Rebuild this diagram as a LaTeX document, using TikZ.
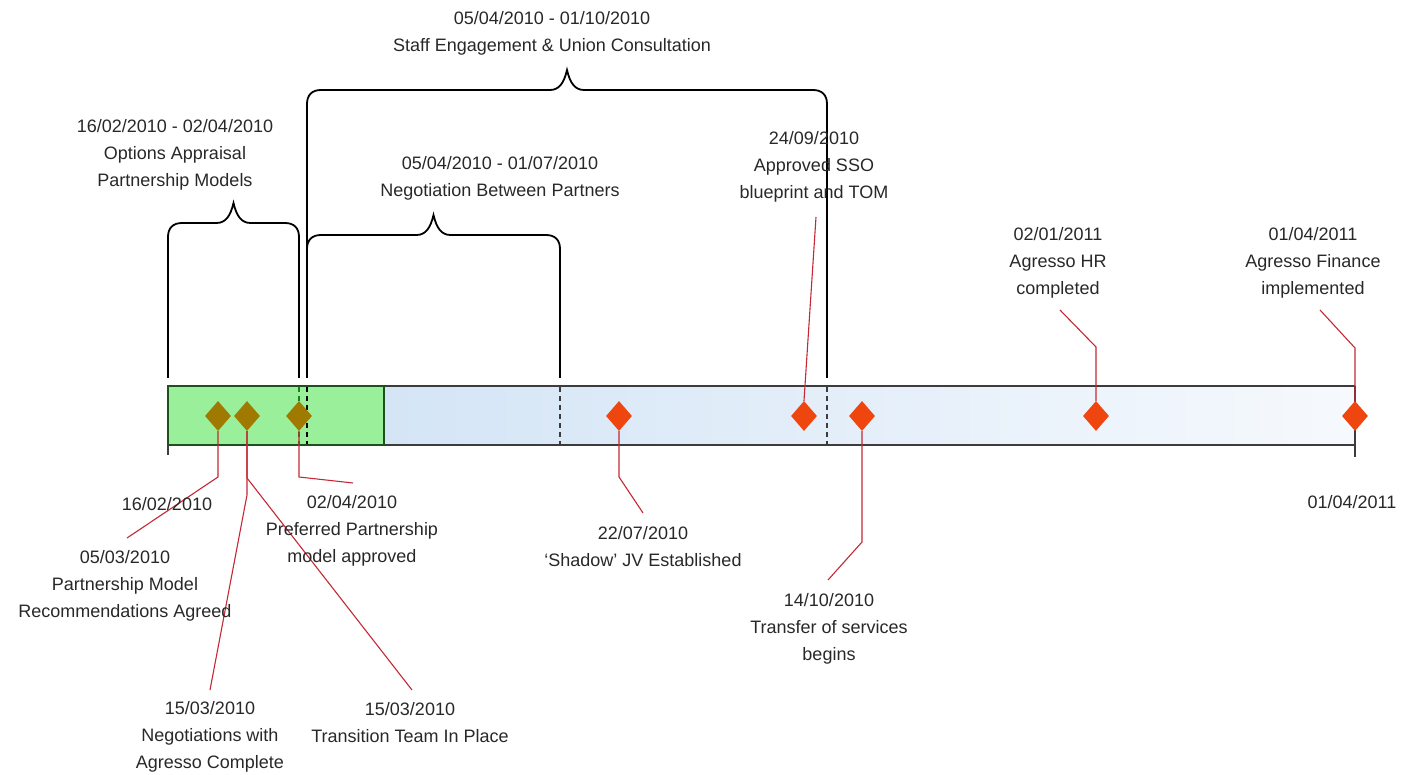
\documentclass[tikz,border=0pt]{standalone}
\usepackage{fontspec}
\setmainfont{Liberation Sans}
\usetikzlibrary{shapes.geometric}
\definecolor{txt}{RGB}{40,40,40}
\definecolor{olivefill}{RGB}{160,122,0}
\definecolor{orangefill}{RGB}{238,70,14}
\definecolor{leadred}{RGB}{196,40,52}
\definecolor{greenfill}{RGB}{154,240,154}
\definecolor{greenline}{RGB}{30,80,30}
\definecolor{barline}{RGB}{60,60,60}
\definecolor{blueL}{RGB}{212,229,246}
\definecolor{blueR}{RGB}{246,249,253}
\newcommand\mybrace[5]{%
  \draw[bracestyle] (#1,#5) -- (#1,{#3+14}) .. controls (#1,{#3+5}) and ({#1+5},#3) .. ({#1+14},#3)
    -- ({(#1+#2)/2-17},#3) .. controls ({(#1+#2)/2-8},#3) and ({(#1+#2)/2-3},{#3-7}) .. ({(#1+#2)/2},#4)
    .. controls ({(#1+#2)/2+3},{#3-7}) and ({(#1+#2)/2+8},#3) .. ({(#1+#2)/2+17},#3)
    -- ({#2-14},#3) .. controls ({#2-5},#3) and (#2,{#3+5}) .. (#2,{#3+14}) -- (#2,#5);}
\begin{document}
\begin{tikzpicture}[x=1pt,y=-1pt,
  lbl/.style={text=txt, align=center, font=\fontsize{18}{27}\selectfont, inner sep=0pt},
  bracestyle/.style={draw=black, line width=1.8pt},
  mstone/.style={diamond, minimum width=26pt, minimum height=30pt, inner sep=0pt, draw=none},
  olivemark/.style={mstone, fill=olivefill},
  orangemark/.style={mstone, fill=orangefill},
  leader/.style={draw=leadred, line width=1.1pt},
  dashmark/.style={dashed, line width=1.4pt, dash pattern=on 5pt off 4pt}]
\useasboundingbox (0,0) rectangle (1401,775);
% bar
\shade[left color=blueL, right color=blueR] (384,386) rectangle (1355,445);
\draw[barline, line width=1.8pt] (384,386) -- (1355,386);
\draw[barline, line width=1.8pt] (384,445) -- (1355,445);
\draw[barline, line width=1.5pt] (1355,386) -- (1355,457);
\draw[fill=greenfill, draw=greenline, line width=2pt] (168,386) rectangle (384,445);
\draw[barline, line width=1.5pt] (168,445) -- (168,455);
% dashed continuation of braces
\draw[dashmark, greenline!70!green] (299,387) -- (299,444);
\draw[dashmark, black] (307,387) -- (307,444);
\draw[dashmark, barline] (560,387) -- (560,444);
\draw[dashmark, barline] (827,387) -- (827,444);
% braces
\mybrace{168}{299}{223}{203}{378}
\mybrace{307}{560}{235}{215}{378}
\mybrace{307}{827}{90}{70}{378}
% coordinates for leaders
\coordinate (cA) at (218,477); \coordinate (eA) at (127,538);
\coordinate (cB1) at (247,495); \coordinate (eB1) at (210,690);
\coordinate (cB2) at (247,478); \coordinate (eB2) at (412,690);
\coordinate (cC) at (299,477); \coordinate (eC) at (353,483);
\coordinate (cD) at (619,477); \coordinate (eD) at (643,513);
\coordinate (eE) at (816,217);
\coordinate (cF) at (862,542); \coordinate (eF) at (828,580);
\coordinate (cG) at (1096,347); \coordinate (eG) at (1060,310);
\coordinate (cH) at (1355,348); \coordinate (eH) at (1320,310);
% milestones
\node[olivemark] (dA) at (218,416) {};
\node[olivemark] (dB) at (247,416) {};
\node[olivemark] (dC) at (299,416) {};
\node[orangemark] (dD) at (619,416) {};
\node[orangemark] (dE) at (804,416) {};
\node[orangemark] (dF) at (862,416) {};
\node[orangemark] (dG) at (1096,416) {};
\node[orangemark] (dH) at (1355,416) {};
% leaders
\draw[leader] (dA.south) -- (cA) -- (eA);
\draw[leader] (dB.south) -- (cB1) -- (eB1);
\draw[leader] (dB.south) -- (cB2) -- (eB2);
\draw[leader] (dC.south) -- (cC) -- (eC);
\draw[leader] (dD.south) -- (cD) -- (eD);
\draw[leader] (dE.north) -- (eE);
\draw[leader] (dF.south) -- (cF) -- (eF);
\draw[leader] (dG.north) -- (cG) -- (eG);
\draw[leader] (dH.north) -- (cH) -- (eH);
% labels
\node[lbl] (lStaff) at (552,33) {05/04/2010 - 01/10/2010\\Staff Engagement \& Union Consultation};
\node[lbl] (lOpt) at (175,155) {16/02/2010 - 02/04/2010\\Options Appraisal\\Partnership Models};
\node[lbl] (lNeg) at (500,178) {05/04/2010 - 01/07/2010\\Negotiation Between Partners};
\node[lbl] (lSSO) at (814,167) {24/09/2010\\Approved SSO\\blueprint and TOM};
\node[lbl] (lHR) at (1058,263) {02/01/2011\\Agresso HR\\completed};
\node[lbl] (lFin) at (1313,263) {01/04/2011\\Agresso Finance\\implemented};
\node[lbl] (lEnd) at (1352,502) {01/04/2011};
\node[lbl] (lStart) at (167,504) {16/02/2010};
\node[lbl] (lPM) at (125,586) {05/03/2010\\Partnership Model\\Recommendations Agreed};
\node[lbl] (lPref) at (352,531) {02/04/2010\\Preferred Partnership\\model approved};
\node[lbl] (lAg) at (210,737) {15/03/2010\\Negotiations with\\Agresso Complete};
\node[lbl] (lTr) at (410,723) {15/03/2010\\Transition Team In Place};
\node[lbl] (lSh) at (643,547) {22/07/2010\\`Shadow' JV Established};
\node[lbl] (lTs) at (829,629) {14/10/2010\\Transfer of services\\begins};
\end{tikzpicture}
\end{document}
